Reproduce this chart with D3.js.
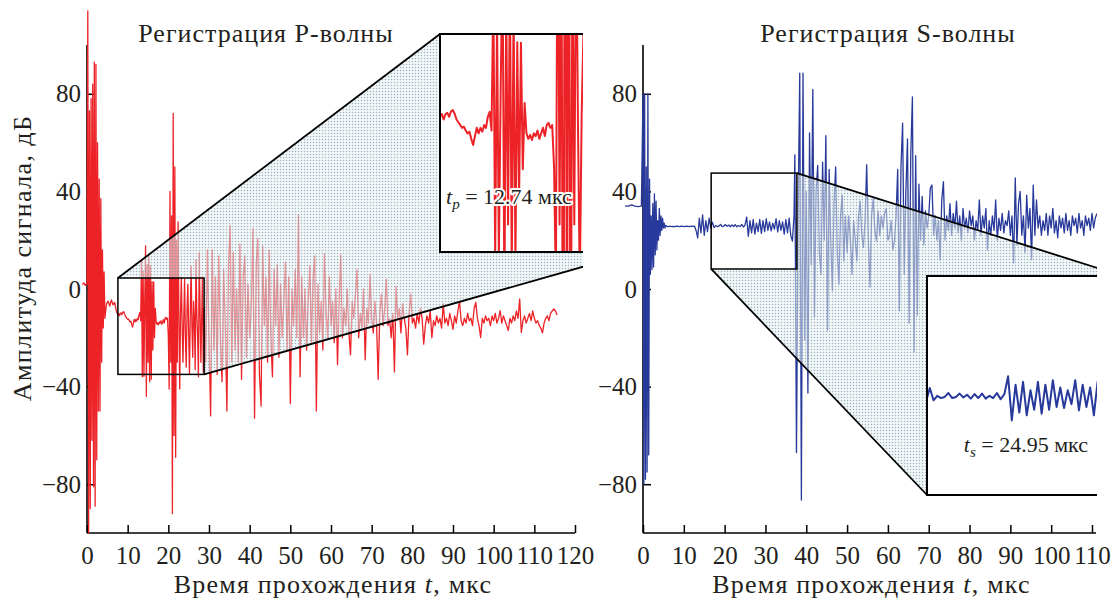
<!DOCTYPE html>
<html>
<head>
<meta charset="utf-8">
<script src="https://cdn.jsdelivr.net/npm/d3@7"></script>
<style>
  body { margin: 0; background: #fff; }
</style>
</head>
<body>
<svg id="chart" width="1111" height="598"></svg>
<script>
// ---- tick values ----
const pTicks = [0, 10, 20, 30, 40, 50, 60, 70, 80, 90, 100, 110, 120];
const sTicks = [0, 10, 20, 30, 40, 50, 60, 70, 80, 90, 100, 110];
const ampTicks = [-80, -40, 0, 40, 80];

// ---- P-wave record (amplitude, dB) ----
// each block: start time, step (mcs), values
const pOnset = [2, 2, 2.5, 2, 1.5, 2, 2, 114, -100, 73, -90, 78, -62, 84, -81, 93, -89, 92, -70, 60,
  -50, 45, -50, 37, -30, 16, -16, 7, -12];
const pQuiet = [-6, -5, -7, -4.5, -6.5, -5.5, -9];
const pWindow = [
  -10.5, -10, -11, -10, -9.8, -10.5, -9.5, -9.3, -10, -11,
  -11.5, -12, -12.5, -12.3, -13, -13.5, -13.2, -14.5, -15.6, -14,
  -12.5, -13.5, -12.5, -13.2, -12, -12.5, -10.5, -9.6, -13, 12,
  -36, 7.4, -35.8, -5, 17.7, -44, 10, -30, 14, -38,
  9.5, -37, 3, -25, 2.9, -20, -8, -13.5, -14.5, -13.8,
  -14.7, -13.5, -14, -13, -14.5, -13.5, -12.5, -14, -12, -11.6,
  -12.5, -12, -19.6, -41, 40, -30, 30, -92, 72, -60,
  50, -69, 20, -30, 27.5, -12, -41, -10, 5, -15,
  -30, -12, 4, -20, -32, -8, 2, -18, -35, -10,
  9.5, -15, -28, -5, -12, -33, 12, -10, -20, -36,
  15, -8, -30, -12, 5, -34];
const pCoda = [
  -8, -30, 16, -20, -52, 16, -25, 5, -35, 13.6,
  -20, -38, 8, -15, -50, 10, 26, -30, 15, -25,
  0, -30, 18.5, -37, 5, 13.6, -28, 2, -20, -8,
  24.7, -53, 10, 20.6, -35, -48, 17.7, -15, 5, -30,
  16, -20, -36, 8, -15, 10, -28, 2, -20, -5,
  11, -25, 5, -47, 0, -15, 8, -20, 30.5, -36,
  5, -20, 0, -25, -5, 9.6, -22, 5, 13.6, -50,
  2, -18, -5, -25, 14.4, -10, -20, 5, -15, -5,
  -22, 0, -31, -5, 14, -20, -8, -15, 0, -18,
  -27, -5, -12, -2, 8, -20, -10, -16, 0, -29,
  -8, -14, 6, -12, -18, -5, -14, -37, -10, -2,
  -15, -8, 4, -15, -12, -20, -10, -34, 1, -12,
  -8, -18, -6, -12, -16, -27, -10, -2, -14];
const pTail = [
  -12, -16, -10, -14, -8, -12, -22.6, -15, -11, -14,
  -9, -20, -13, -15, -11, -14, -12, -16, -6, -14,
  -12, -15, -10, -13, -16.5, -11, -14, -9, -5, -13,
  -15, -12, -14, -10, -13, -12, -15, -8, -5.5, -12,
  -15, -19.9, -12, -14, -11, -13, -12, -15, -11, -13,
  -10, -14, -12, -8.9, -14, -11, -13, -15, -17, -12,
  -14, -11, -13, -9, -12, -4.1, -17.8, -13, -11, -14,
  -12, -10, -13, -9, -12, -14, -13, -15, -16, -18,
  -14, -12, -11, -13, -10, -9, -8.2, -9, -10.7];
const pBlocks = [[-1.2, 0.2, pOnset], [4.8, 0.4, pQuiet], [7.6, 0.2, pWindow], [28.8, 0.4, pCoda], [80.4, 0.4, pTail]];

// ---- S-wave record ----
const sLead = [34, 34, 34.5, 34, 33.8, 34];
const sOnset = [80, -80, 80, -78, 50, -75, 80, -68, 45, 6, 30, 8, 35, 9, 39, 14, 36, 16, 28, 20,
  33, 22, 30, 24, 29, 25, 27, 25, 26];
const sQuiet = [
  25.8, 25.5, 25.8, 25.6, 25.7, 25.6, 25.8, 25.7, 25.6, 25.8,
  25.7, 25.6, 25.8, 25.7, 25.6, 25.8, 25.7, 25.8, 24, 21,
  29, 23, 30.4, 22, 28, 23.5, 29, 25, 27.4, 25.2,
  26, 25.6, 25.8, 26.5, 25.6, 25.8, 26.4, 25.7, 26.2, 25.5,
  26.3, 25.6, 26.4, 25.5, 26, 25.6, 26.5, 25.4, 26.3, 29.5,
  21.6, 28, 23, 28.5, 22.5, 27, 23.5, 28.5, 22.8, 28,
  23.5, 28.8, 24, 27.5, 23.8, 27, 24.5, 28.8, 23.4, 28,
  24, 27.5, 22.5, 28.5, 23, 29, 22, 19.6, 30];
const sCoda = [
  55, -67, 30, 88.5, -86.5, 88.5, -21, 40, -42.6, 64,
  10, 81.8, -11.5, 40, 50.7, 15, 6, 52, 20, 62.8,
  -17, 49, 20, -0.7, 35, 50, 15, 2, 30, 38.5,
  11.5, 30, 15, 30, 20, 6, 28, 20, 11.5, 30,
  36, 22, 17, 28, 51, 20, 0.8, 30, 37, 24,
  19.6, 32, 22, 30, 25, 31, 33, 20, 22, 28,
  16, 19.6, 30, 49, -8.8, 50, 68, 6, 40, 61.5,
  -14, 55, 78.7, -25.8, 54.7, -10.7, 43, 20, 38, 18,
  32, 25, 30, 41.4, 42.6, 22, 30, 20, 28, 11.9,
  36.5, 44, 20, 30, 24, 35, 22, 31, 25, 36,
  23, 30, 20, 33, 25, 29, 23, 32, 26, 30,
  20, 28, 24, 36.5, 22, 30, 25, 33, 16, 28,
  22, 30, 24, 36.5, 20, 29, 24, 31, 23, 28,
  26, 32, 22, 30, 10.7, 45.5, 18, 35, 40, 22,
  30, 15, 38.5, 25, 33, 12, 42.6, 22, 36.5, 25,
  30, 22, 28, 24, 31, 22, 30, 25, 33, 23,
  28, 21, 30, 25, 29, 23, 31, 24, 28, 22,
  30, 26, 29, 23, 31, 25, 28, 22, 30, 26,
  29, 24, 31, 25, 29, 31];
const sBlocks = [[-4.4, 0.8, sLead], [0, 0.2, sOnset], [5.8, 0.4, sQuiet], [37.2, 0.4, sCoda]];

// zoomed windows [t0, t1, vmin, vmax] and arrival times
const pWindowBox = [7.6, 28.8, -35, 4.5];
const sWindowBox = [16.7, 37.7, 8.2, 47.5];
const arrivals = ["12.74", "24.95"];

function build(blocks) {
  const pts = [];
  blocks.forEach(([t0, dt, vals]) => vals.forEach((v, i) => pts.push([t0 + i * dt, v])));
  return pts;
}

const ink = "#231f20";
const serif = "'Liberation Serif', 'DejaVu Serif', serif";
const svg = d3.select("#chart").attr("font-family", serif);
const defs = svg.append("defs");

// dotted shading
const pat = defs.append("pattern").attr("id", "dots").attr("patternUnits", "userSpaceOnUse")
  .attr("width", 3).attr("height", 3);
pat.append("rect").attr("width", 3).attr("height", 3).attr("fill", "#e6f2f6").attr("fill-opacity", 0.55);
pat.append("circle").attr("cx", 1.5).attr("cy", 1.5).attr("r", 0.75).attr("fill", "#7d949c").attr("fill-opacity", 0.7);

const y = d3.scaleLinear([-100, 100], [533, 45]);

const panels = [
  {
    id: "p", data: build(pBlocks), color: "#ec2227", ticks: pTicks,
    x: d3.scaleLinear([0, 120], [87, 575]), axisEnd: 575, clip: [0, 583],
    title: "Регистрация P-волны", titleX: 266,
    box: pWindowBox, inset: { x: 440, y: 34, h: 218 },
    label: { sub: "p", val: arrivals[0], x: 446, y: 204, anchor: "start" }
  },
  {
    id: "s", data: build(sBlocks), color: "#27399a", ticks: sTicks,
    x: d3.scaleLinear([0, 110], [643, 1092]), axisEnd: 1096, clip: [600, 1097],
    title: "Регистрация S-волны", titleX: 888,
    box: sWindowBox, inset: { x: 927, y: 276, h: 219 },
    label: { sub: "s", val: arrivals[1], x: 1088, y: 452, anchor: "end" }
  }
];

panels.forEach(p => {
  const g = svg.append("g");
  const x0 = p.x(0);

  // axes
  const xa = d3.axisBottom(p.x).tickValues(p.ticks).tickSize(-8).tickSizeOuter(0).tickPadding(13)
    .tickFormat(d3.format("d"));
  const ya = d3.axisLeft(y).tickValues(ampTicks).tickSize(-8).tickSizeOuter(0).tickPadding(6)
    .tickFormat(d3.format("d"));
  const gx = g.append("g").attr("transform", `translate(0,${y(-100)})`).call(xa);
  const gy = g.append("g").attr("transform", `translate(${x0},0)`).call(ya);
  [gx, gy].forEach(a => {
    a.attr("font-family", serif).attr("font-size", 25);
    a.select(".domain").remove();
    a.selectAll(".tick line").attr("stroke", "#000").attr("stroke-width", 1.5);
    a.selectAll("text").attr("fill", ink);
  });
  g.append("line").attr("x1", x0).attr("x2", p.axisEnd).attr("y1", y(-100)).attr("y2", y(-100))
    .attr("stroke", "#000").attr("stroke-width", 1.6);
  g.append("line").attr("x1", x0).attr("x2", x0).attr("y1", y(-100)).attr("y2", y(100))
    .attr("stroke", "#000").attr("stroke-width", 1.6);

  // record
  defs.append("clipPath").attr("id", "clip-" + p.id).append("rect")
    .attr("x", p.clip[0]).attr("y", 0).attr("width", p.clip[1] - p.clip[0]).attr("height", 598);
  const line = d3.line().x(d => p.x(d[0])).y(d => y(d[1]));
  const plot = g.append("g").attr("clip-path", `url(#clip-${p.id})`);
  plot.append("path").datum(p.data).attr("d", line).attr("fill", "none")
    .attr("stroke", p.color).attr("stroke-width", 1.3).attr("stroke-linejoin", "round");

  // zoom window and its enlargement
  const [t0, t1, vmin, vmax] = p.box;
  const sx0 = p.x(t0), sx1 = p.x(t1), sy0 = y(vmax), sy1 = y(vmin);
  const k = p.inset.h / (sy1 - sy0);
  const ix0 = p.inset.x, iy0 = p.inset.y, ix1 = ix0 + k * (sx1 - sx0), iy1 = iy0 + p.inset.h;
  const src = [[sx0, sy0], [sx1, sy0], [sx1, sy1], [sx0, sy1]];
  const ins = [[ix0, iy0], [ix1, iy0], [ix1, iy1], [ix0, iy1]];
  const hull = d3.polygonHull(src.concat(ins));
  const rectPath = pts => "M" + pts.map(q => q.join(",")).join("L") + "Z";
  plot.append("path").attr("d", rectPath(hull) + rectPath(src)).attr("fill-rule", "evenodd")
    .attr("fill", "url(#dots)");
  const isSrc = q => src.some(s => s[0] === q[0] && s[1] === q[1]);
  hull.forEach((q, i) => {
    const r = hull[(i + 1) % hull.length];
    if (isSrc(q) !== isSrc(r)) {
      plot.append("line").attr("x1", q[0]).attr("y1", q[1]).attr("x2", r[0]).attr("y2", r[1])
        .attr("stroke", "#000").attr("stroke-width", 1.8);
    }
  });
  plot.append("rect").attr("x", sx0).attr("y", sy0).attr("width", sx1 - sx0).attr("height", sy1 - sy0)
    .attr("fill", "none").attr("stroke", "#000").attr("stroke-width", 1.5);

  plot.append("rect").attr("x", ix0).attr("y", iy0).attr("width", ix1 - ix0).attr("height", iy1 - iy0)
    .attr("fill", "#fff");
  defs.append("clipPath").attr("id", "iclip-" + p.id).append("rect")
    .attr("x", ix0).attr("y", iy0).attr("width", Math.min(ix1, p.clip[1]) - ix0).attr("height", iy1 - iy0);
  const zx = d3.scaleLinear([t0, t1], [ix0, ix1]);
  const zy = d3.scaleLinear([vmin, vmax], [iy1, iy0]);
  const zline = d3.line().x(d => zx(d[0])).y(d => zy(d[1]));
  plot.append("g").attr("clip-path", `url(#iclip-${p.id})`).append("path")
    .datum(p.data.filter(d => d[0] >= t0 - 1 && d[0] <= t1 + 1)).attr("d", zline)
    .attr("fill", "none").attr("stroke", p.color).attr("stroke-width", 2).attr("stroke-linejoin", "round");
  plot.append("rect").attr("x", ix0).attr("y", iy0).attr("width", ix1 - ix0).attr("height", iy1 - iy0)
    .attr("fill", "none").attr("stroke", "#000").attr("stroke-width", 2);

  const lab = g.append("text").attr("x", p.label.x).attr("y", p.label.y).attr("font-size", 22)
    .attr("text-anchor", p.label.anchor).attr("fill", ink)
    .attr("paint-order", "stroke").attr("stroke", "#fff").attr("stroke-width", 4).attr("stroke-linejoin", "round");
  lab.append("tspan").attr("font-style", "italic").text("t");
  lab.append("tspan").attr("font-style", "italic").attr("font-size", 15).attr("dy", 5).text(p.label.sub);
  lab.append("tspan").attr("dy", -5).text(" = " + p.label.val + " мкс");

  // titles
  g.append("text").attr("x", p.titleX).attr("y", 42).attr("text-anchor", "middle").attr("font-size", 26)
    .attr("letter-spacing", 1).attr("fill", ink).text(p.title);
  const xt = g.append("text").attr("x", (x0 + p.axisEnd) / 2 + 2).attr("y", 593).attr("text-anchor", "middle")
    .attr("font-size", 26).attr("letter-spacing", 1.2).attr("fill", ink);
  xt.append("tspan").text("Время прохождения ");
  xt.append("tspan").attr("font-style", "italic").text("t");
  xt.append("tspan").text(", мкс");
});

svg.append("text").attr("transform", "translate(31,258) rotate(-90)").attr("text-anchor", "middle")
  .attr("font-size", 26).attr("letter-spacing", 1.4).attr("fill", ink).text("Амплитуда сигнала, дБ");
</script>
</body>
</html>
